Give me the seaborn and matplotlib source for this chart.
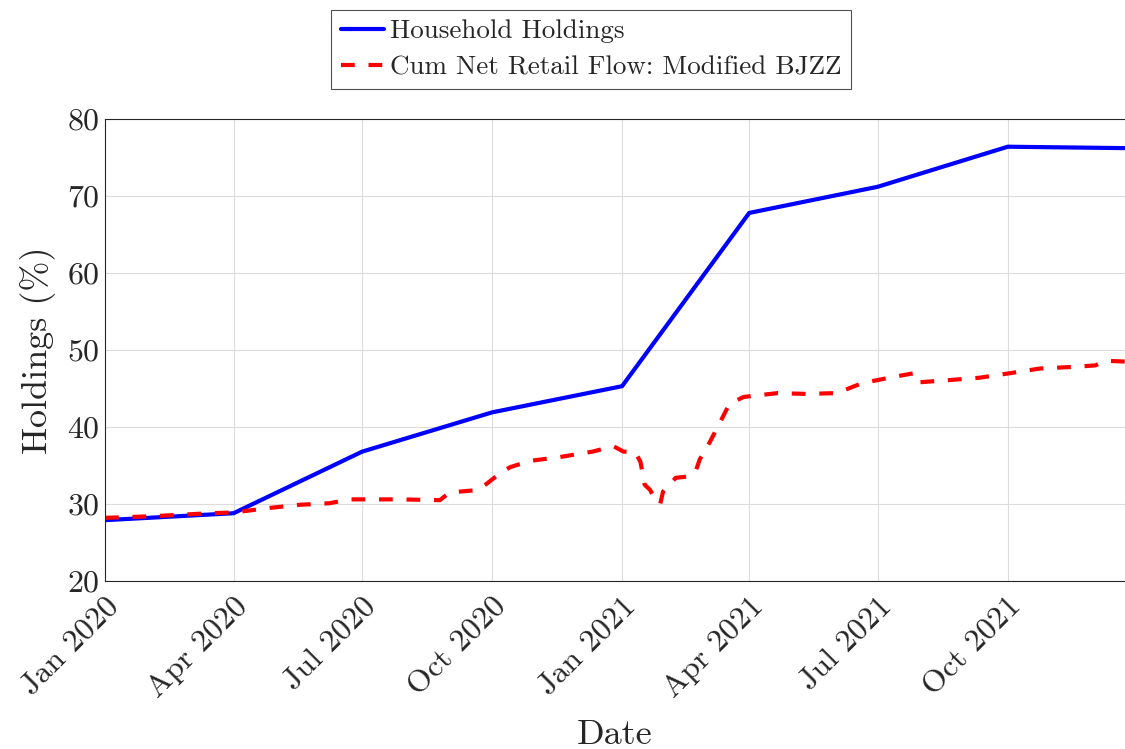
import pandas as pd
import matplotlib
matplotlib.use('Agg')
import matplotlib.pyplot as plt
import matplotlib.dates as mdates
import seaborn as sns

# -----------------------------------------------------------------
# DATA
# -----------------------------------------------------------------
household_dates = ['2020-01-01', '2020-04-01', '2020-07-01', '2020-10-01',
                   '2021-01-01', '2021-04-01', '2021-07-01', '2021-10-01',
                   '2021-12-31']
household_values = [27.9, 28.8, 36.8, 41.9, 45.3, 67.8, 71.2, 76.4, 76.2]

flow_dates = ['2020-01-01', '2020-02-02', '2020-03-15', '2020-04-01', '2020-04-27',
              '2020-05-18', '2020-06-08', '2020-06-22', '2020-07-28', '2020-08-25',
              '2020-09-01', '2020-09-20', '2020-09-27', '2020-10-08', '2020-10-14',
              '2020-10-28', '2020-11-18', '2020-12-11', '2020-12-26', '2021-01-02',
              '2021-01-10', '2021-01-14', '2021-01-17', '2021-01-21', '2021-01-23',
              '2021-01-28', '2021-01-30', '2021-02-08', '2021-02-18', '2021-02-22',
              '2021-02-25', '2021-03-04', '2021-03-13', '2021-03-18', '2021-03-28',
              '2021-04-21', '2021-05-11', '2021-06-02', '2021-06-20', '2021-07-12',
              '2021-07-27', '2021-07-30', '2021-08-21', '2021-09-11', '2021-10-03',
              '2021-10-24', '2021-11-16', '2021-12-02', '2021-12-09', '2021-12-23']
flow_values = [28.2, 28.4, 28.8, 28.9, 29.5,
               29.9, 30.1, 30.6, 30.6, 30.5,
               31.5, 31.8, 32.6, 34.2, 34.8,
               35.6, 36.1, 36.8, 37.5, 36.8,
               36.8, 35.5, 32.5, 31.8, 31.0,
               30.0, 31.6, 33.4, 33.6, 34.2,
               35.8, 38.0, 41.2, 43.0, 43.9,
               44.4, 44.3, 44.4, 45.7, 46.5,
               47.0, 45.8, 46.1, 46.4, 47.0,
               47.6, 47.8, 48.0, 48.6, 48.5]

household_df = pd.DataFrame({'Date': pd.to_datetime(household_dates), 'Holdings': household_values})
flow_df = pd.DataFrame({'Date': pd.to_datetime(flow_dates), 'Holdings': flow_values})

# -----------------------------------------------------------------
# STYLE
# -----------------------------------------------------------------
sns.set_style('white')
plt.rcParams['font.family'] = 'serif'
plt.rcParams['font.serif'] = ['cmr10', 'DejaVu Serif']
plt.rcParams['mathtext.fontset'] = 'cm'
plt.rcParams['axes.formatter.use_mathtext'] = True

fig = plt.figure(figsize=(11.25, 7.49), dpi=100)
ax = fig.add_axes([105 / 1125, 1 - 581 / 749, 1 - 105 / 1125, (581 - 119) / 749])

sns.lineplot(data=household_df, x='Date', y='Holdings', ax=ax, color='#0000ff',
             linewidth=3.0, label='Household Holdings')
sns.lineplot(data=flow_df, x='Date', y='Holdings', ax=ax, color='#ff0000',
             linewidth=3.0, label='Cum Net Retail Flow: Modified BJZZ')
ax.lines[1].set_dashes([3.3, 3.3])

ax.set_xlim(pd.Timestamp('2020-01-01'), pd.Timestamp('2021-12-23'))
ax.set_ylim(20, 80)
ax.set_yticks(range(20, 81, 10))
ax.xaxis.set_major_locator(mdates.MonthLocator(bymonth=[1, 4, 7, 10]))
ax.xaxis.set_major_formatter(mdates.DateFormatter('%b %Y'))
plt.setp(ax.get_xticklabels(), rotation=45, ha='right', rotation_mode='anchor')

ax.grid(True, color='#dcdcdc', linewidth=0.8)
ax.tick_params(axis='both', direction='in', length=6, width=0.8, colors='#262626',
               labelsize=23, labelcolor='#262626')
ax.tick_params(axis='x', pad=8)
for side in ['left', 'bottom', 'top']:
    ax.spines[side].set_color('#262626')
    ax.spines[side].set_linewidth(0.8)
ax.spines['right'].set_visible(False)

ax.set_xlabel('Date', fontsize=26, color='#262626', labelpad=12)
ax.set_ylabel('Holdings (%)', fontsize=26, color='#262626', labelpad=8)

handles, labels = ax.get_legend_handles_labels()
ax.get_legend().remove()
leg = fig.legend(handles, labels, loc='upper center', bbox_to_anchor=(591 / 1125, 1 - 10 / 749),
                 fontsize=19.5, frameon=True, fancybox=False, handlelength=1.6,
                 handletextpad=0.2, borderpad=0.35, labelspacing=0.45, borderaxespad=0)
leg.get_frame().set_edgecolor('#262626')
leg.get_frame().set_linewidth(0.8)

fig.savefig('out.png', dpi=100)
